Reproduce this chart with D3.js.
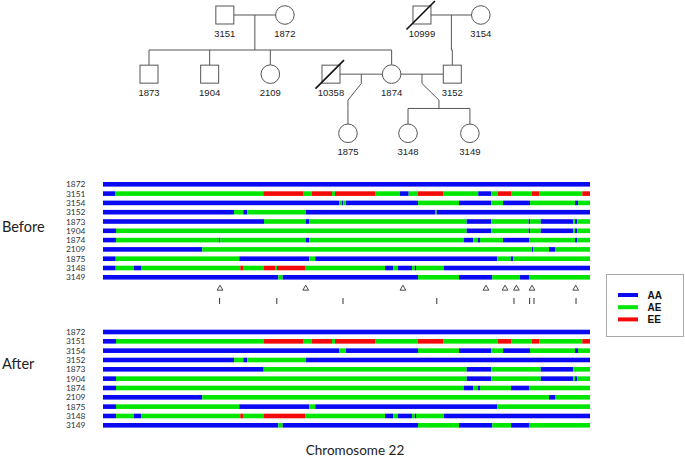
<!DOCTYPE html>
<html>
<head>
<meta charset="utf-8">
<script src="https://cdn.jsdelivr.net/npm/d3@7"></script>
<style>
  body { margin: 0; background: #fff; }
  svg { display: block; }
</style>
</head>
<body>
<div id="chart"></div>
<script>
// samples in track order
var samples = ["1872", "3151", "3154", "3152", "1873", "1904", "1874", "2109", "1875", "3148", "3149"];
var genotypes = ["AA", "AE", "EE"];
var genoColors = ["#0a0af2", "#00e600", "#f50a0a"];

// each track: [start position (% of region), genotype]; a segment ends where the next starts
var before = [
  [[0, "AA"]],
  [[0, "AA"], [2.46, "AE"], [32.92, "EE"], [41.21, "AE"], [42.85, "EE"], [47.02, "AE"], [47.64, "EE"], [55.85, "AE"], [60.99, "AA"], [62.77, "AE"], [64.68, "EE"], [69.82, "AE"], [77.06, "AA"], [79.73, "AE"], [81.11, "EE"], [83.78, "AE"], [88.09, "EE"], [89.53, "AE"], [98.42, "EE"]],
  [[0, "AA"], [48.46, "AE"], [49.05, "AA"], [49.3, "AE"], [49.9, "AA"], [64.68, "AE"], [73.1, "AA"], [79.73, "AE"], [82.14, "AA"], [87.68, "AE"], [96.92, "AA"], [97.54, "AE"]],
  [[0, "AA"], [26.9, "AE"], [28.81, "AA"], [29.63, "AE"], [41.62, "AA"], [68.17, "AE"], [68.52, "AA"]],
  [[0, "AA"], [33.06, "AE"], [41.62, "AA"], [42.3, "AE"], [74.68, "AA"], [79.73, "AE"], [87.4, "AA"], [87.7, "AE"], [89.88, "AA"], [96.57, "AE"], [96.92, "AA"], [97.39, "AE"]],
  [[0, "AA"], [2.67, "AE"], [74.68, "AA"], [79.73, "AE"], [87.4, "AA"], [87.7, "AE"], [89.88, "AA"], [96.57, "AE"], [96.92, "AA"], [97.39, "AE"]],
  [[0, "AA"], [2.67, "AE"], [23.82, "AA"], [24.09, "AE"], [41.62, "AA"], [42.36, "AE"], [74.13, "AA"], [76.04, "AE"], [76.94, "AA"], [77.41, "AE"], [82.14, "AA"], [87.47, "AE"], [96.92, "AA"], [97.39, "AE"]],
  [[0, "AA"], [20.39, "AE"], [88.09, "AA"], [88.36, "AE"], [91.58, "AA"], [92.81, "AE"]],
  [[0, "AA"], [2.61, "AE"], [27.99, "AA"], [42.36, "AE"], [43.59, "AA"], [80.97, "AE"], [83.72, "AA"], [84.25, "AE"]],
  [[0, "AA"], [2.61, "AE"], [6.37, "AA"], [7.8, "AE"], [28.19, "EE"], [28.89, "AE"], [33.0, "EE"], [35.46, "AE"], [35.73, "EE"], [41.48, "AE"], [57.91, "AA"], [59.61, "AE"], [60.51, "AA"], [63.45, "AE"], [64.0, "AA"], [64.27, "AE"], [70.02, "AA"]],
  [[0, "AA"], [36.0, "AE"], [36.9, "AA"], [64.68, "AE"], [73.1, "AA"], [79.94, "AE"], [85.63, "AA"], [87.47, "AE"]]
];

var after = [
  [[0, "AA"]],
  [[0, "AA"], [2.67, "AE"], [33.0, "EE"], [41.21, "AE"], [42.85, "EE"], [47.02, "AE"], [47.64, "EE"], [55.85, "AE"], [64.68, "EE"], [69.82, "AE"], [81.11, "EE"], [83.78, "AE"], [88.09, "EE"], [89.53, "AE"], [98.42, "EE"]],
  [[0, "AA"], [48.46, "AE"], [49.9, "AA"], [64.68, "AE"], [73.1, "AA"], [79.73, "AE"], [82.14, "AA"], [87.68, "AE"], [96.92, "AA"], [97.54, "AE"]],
  [[0, "AA"], [26.9, "AE"], [28.81, "AA"], [29.63, "AE"], [41.62, "AA"]],
  [[0, "AA"], [33.0, "AE"], [74.68, "AA"], [79.73, "AE"], [89.88, "AA"], [96.57, "AE"]],
  [[0, "AA"], [2.67, "AE"], [74.68, "AA"], [79.73, "AE"], [89.88, "AA"], [96.57, "AE"], [96.92, "AA"], [97.39, "AE"]],
  [[0, "AA"], [2.67, "AE"], [74.13, "AA"], [76.04, "AE"], [76.94, "AA"], [77.41, "AE"], [83.78, "AA"], [87.47, "AE"]],
  [[0, "AA"], [20.39, "AE"], [91.58, "AA"], [92.81, "AE"]],
  [[0, "AA"], [2.67, "AE"], [27.99, "AA"], [42.36, "AE"], [43.59, "AA"], [80.97, "AE"]],
  [[0, "AA"], [2.67, "AE"], [6.37, "AA"], [7.8, "AE"], [28.19, "EE"], [28.89, "AE"], [33.0, "EE"], [41.48, "AE"], [57.91, "AA"], [59.61, "AE"], [60.51, "AA"], [63.45, "AE"], [64.0, "AA"], [64.27, "AE"], [70.02, "AA"]],
  [[0, "AA"], [36.0, "AE"], [36.9, "AA"], [64.68, "AE"], [73.1, "AA"], [79.94, "AE"], [83.78, "AA"], [87.47, "AE"]]
];

// marker rows between the panels
var trianglePos = [24.02, 41.62, 61.58, 78.64, 82.55, 84.89, 88.09, 97.06];
var tickPos = [23.94, 35.69, 49.28, 68.54, 84.39, 87.6, 88.5, 97.13];

// pedigree: generation and column slot
var pedIds   = ["3151", "1872", "10999", "3154", "1873", "1904", "2109", "10358", "1874", "3152", "1875", "3148", "3149"];
var pedSex   = ["M", "F", "M", "F", "M", "M", "F", "M", "F", "M", "F", "F", "F"];
var pedGen   = [1, 1, 1, 1, 2, 2, 2, 2, 2, 2, 3, 3, 3];
var pedCol   = [1.25, 2.24, 4.5, 5.47, 0, 1, 2, 3, 4, 5, 3.28, 4.27, 5.29];
var pedDead  = ["10999", "10358"];
var families = [
  { parents: ["3151", "1872"], children: ["1873", "1904", "2109", "1874"] },
  { parents: ["10999", "3154"], children: ["3152"] },
  { parents: ["10358", "1874"], children: ["1875"], kink: true },
  { parents: ["1874", "3152"], children: ["3148", "3149"], kink: true }
];

var W = 685, H = 458;
var svg = d3.select("#chart").append("svg")
  .attr("width", W).attr("height", H);

var calib = "Lato, 'Open Sans', sans-serif";
var arial = "'Liberation Sans', Arial, sans-serif";

// ---------- pedigree ----------
var px = d3.scaleLinear().domain([0, 5]).range([149, 452.3]);
var py = d3.scaleLinear().domain([1, 3]).range([15, 133.3]);
var half = 9;
var nodes = pedIds.map(function(id, i) {
  return { id: id, sex: pedSex[i], x: px(pedCol[i]), y: py(pedGen[i]), dead: pedDead.indexOf(id) >= 0 };
});
var byId = {};
nodes.forEach(function(n) { byId[n.id] = n; });

var ped = svg.append("g")
  .attr("fill", "none")
  .attr("stroke", "#555")
  .attr("stroke-width", 1);

families.forEach(function(f) {
  var a = byId[f.parents[0]], b = byId[f.parents[1]];
  var left = a.x < b.x ? a : b, right = a.x < b.x ? b : a;
  var my = a.y;
  ped.append("line")
    .attr("x1", left.x + half).attr("x2", right.x - half)
    .attr("y1", my).attr("y2", my);
  var mx = (left.x + right.x) / 2;
  var kids = f.children.map(function(c) { return byId[c]; });
  var kx = kids.map(function(k) { return k.x; });
  var sibY, path;
  if (f.kink) {
    var cx = (d3.min(kx) + d3.max(kx)) / 2;
    sibY = my + 34.3;
    path = "M" + mx + "," + my + "V" + (my + 9.3) + "L" + cx + "," + (my + 26) + "V" + sibY;
  } else {
    sibY = my + 35;
    path = "M" + mx + "," + my + "V" + sibY;
  }
  ped.append("path").attr("d", path);
  var sx0 = d3.min(kx.concat([f.kink ? d3.min(kx) : mx]));
  var sx1 = d3.max(kx.concat([f.kink ? d3.max(kx) : mx]));
  if (sx1 - sx0 > 0.5) {
    ped.append("line").attr("x1", sx0).attr("x2", sx1).attr("y1", sibY).attr("y2", sibY);
  }
  kids.forEach(function(k) {
    ped.append("line").attr("x1", k.x).attr("x2", k.x)
      .attr("y1", sibY).attr("y2", k.y - half);
  });
});

ped.selectAll("rect.male")
  .data(nodes.filter(function(n) { return n.sex == "M"; }))
  .enter().append("rect")
  .attr("class", "male")
  .attr("x", function(d) { return d.x - half; })
  .attr("y", function(d) { return d.y - half; })
  .attr("width", half * 2).attr("height", half * 2)
  .attr("fill", "#fff");

ped.selectAll("circle.female")
  .data(nodes.filter(function(n) { return n.sex == "F"; }))
  .enter().append("circle")
  .attr("class", "female")
  .attr("cx", function(d) { return d.x; })
  .attr("cy", function(d) { return d.y; })
  .attr("r", 9.3)
  .attr("fill", "#fff");

// deceased slash
ped.selectAll("line.dead")
  .data(nodes.filter(function(n) { return n.dead; }))
  .enter().append("line")
  .attr("class", "dead")
  .attr("x1", function(d) { return d.x - 15.5; })
  .attr("y1", function(d) { return d.y + 14.5; })
  .attr("x2", function(d) { return d.x + 13; })
  .attr("y2", function(d) { return d.y - 14; })
  .attr("stroke", "#111")
  .attr("stroke-width", 1.6);

svg.append("g").selectAll("text")
  .data(nodes)
  .enter().append("text")
  .attr("x", function(d) { return d.x; })
  .attr("y", function(d) { return d.y + 22; })
  .attr("text-anchor", "middle")
  .attr("font-family", arial)
  .attr("font-size", "9.5px")
  .attr("fill", "#222")
  .text(function(d) { return d.id; });

// ---------- genotype tracks ----------
var x = d3.scaleLinear().domain([0, 100]).range([103, 590]);
var color = d3.scaleOrdinal().domain(genotypes).range(genoColors);
var barH = 4.6;

function drawPanel(tracks, y0, y1, title, titleY) {
  var y = d3.scalePoint().domain(samples).range([y0, y1]);
  var g = svg.append("g");

  g.selectAll("text.lab")
    .data(samples)
    .enter().append("text")
    .attr("class", "lab")
    .attr("x", 66)
    .attr("y", function(d) { return y(d) + 3; })
    .attr("font-family", calib)
    .attr("font-size", "8.4px")
    .attr("fill", "#333")
    .text(function(d) { return d; });

  tracks.forEach(function(segs, i) {
    var row = segs.map(function(s, j) {
      return { start: s[0], end: j < segs.length - 1 ? segs[j + 1][0] : 100, g: s[1] };
    });
    g.selectAll(null)
      .data(row)
      .enter().append("rect")
      .attr("x", function(d) { return x(d.start); })
      .attr("width", function(d) { return x(d.end) - x(d.start); })
      .attr("y", y(samples[i]) - barH / 2)
      .attr("height", barH)
      .attr("fill", function(d) { return color(d.g); });
  });

  svg.append("text")
    .attr("x", 2)
    .attr("y", titleY)
    .attr("dy", "0.35em")
    .attr("font-family", calib)
    .attr("font-size", "14.5px")
    .attr("fill", "#222")
    .text(title);
}

drawPanel(before, 184.3, 277.3, "Before", 226.5);
drawPanel(after, 332, 425.3, "After", 363.5);

// markers
svg.append("g").selectAll("path")
  .data(trianglePos)
  .enter().append("path")
  .attr("d", d3.symbol().type(d3.symbolTriangle).size(14))
  .attr("transform", function(d) { return "translate(" + x(d) + ",288.5)"; })
  .attr("fill", "#fff")
  .attr("stroke", "#333")
  .attr("stroke-width", 0.9);

svg.append("g").selectAll("line")
  .data(tickPos)
  .enter().append("line")
  .attr("x1", function(d) { return x(d); })
  .attr("x2", function(d) { return x(d); })
  .attr("y1", 298).attr("y2", 304)
  .attr("stroke", "#333")
  .attr("stroke-width", 1);

// legend
var leg = svg.append("g");
leg.append("rect")
  .attr("x", 606.5).attr("y", 274.5)
  .attr("width", 77).attr("height", 62)
  .attr("fill", "#fff")
  .attr("stroke", "#aaa");
genotypes.forEach(function(gt, i) {
  var ly = 295 + i * 12.2;
  leg.append("rect")
    .attr("x", 618).attr("y", ly - 2)
    .attr("width", 20).attr("height", 4)
    .attr("fill", color(gt));
  leg.append("text")
    .attr("x", 647.5).attr("y", ly)
    .attr("dy", "0.35em")
    .attr("font-family", arial)
    .attr("font-weight", "bold")
    .attr("font-size", "10px")
    .attr("fill", "#111")
    .text(gt);
});

svg.append("text")
  .attr("x", 355)
  .attr("y", 455)
  .attr("text-anchor", "middle")
  .attr("font-family", calib)
  .attr("font-size", "13.5px")
  .attr("fill", "#222")
  .text("Chromosome 22");
</script>
</body>
</html>
